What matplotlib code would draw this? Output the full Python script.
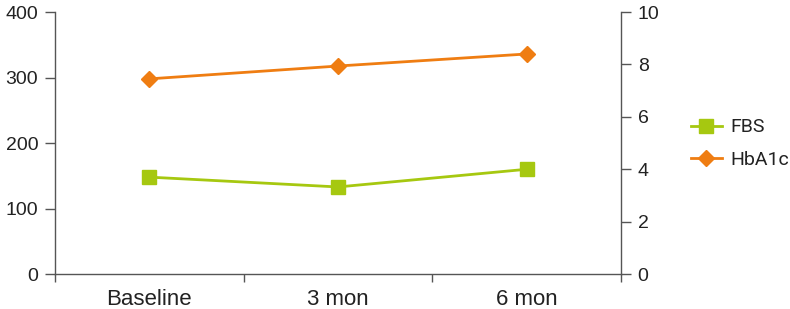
import matplotlib.pyplot as plt
from matplotlib.ticker import FixedLocator

plt.rcParams['font.family'] = ['Liberation Sans', 'DejaVu Sans']

# dati
periodi = ["Baseline", "3 mon", "6 mon"]
fbs = [148, 133, 160]
hba1c = [7.45, 7.94, 8.4]

verde = "#a6c810"
arancio = "#ef7d12"
grigio = "#555555"
testo = "#222222"

fig = plt.figure(figsize=(7.9, 3.09), dpi=100)
ax = fig.add_axes([0.0696, 0.113, 0.7165, 0.848])
ax2 = ax.twinx()

x = range(len(periodi))
l1, = ax.plot(x, fbs, color=verde, lw=2, marker='s', ms=9.5, label="FBS")
l2, = ax2.plot(x, hba1c, color=arancio, lw=2, marker='D', ms=8, label="HbA1c")

ax.set_ylim(0, 400)
ax.set_yticks([0, 100, 200, 300, 400])
ax2.set_ylim(0, 10)
ax2.set_yticks([0, 2, 4, 6, 8, 10])
ax.set_xlim(-0.5, 2.5)

# tacche sui bordi delle categorie, etichette al centro
ax.xaxis.set_major_locator(FixedLocator([-0.5, 0.5, 1.5, 2.5]))
ax.set_xticklabels([])
ax.set_xticks(list(x), minor=True)
ax.set_xticklabels(periodi, minor=True)

for a in (ax, ax2):
    for s in a.spines.values():
        s.set_visible(False)
    a.tick_params(labelsize=14, labelcolor=testo, color=grigio, length=7, width=1, pad=5)
ax.tick_params(axis='x', which='major', length=6, width=1, color=grigio)
ax.tick_params(axis='x', which='minor', length=0, pad=11, labelsize=16, labelcolor=testo)

ax.spines['left'].set_visible(True)
ax.spines['bottom'].set_visible(True)
ax2.spines['right'].set_visible(True)
for s in (ax.spines['left'], ax.spines['bottom'], ax2.spines['right']):
    s.set_color(grigio)
    s.set_linewidth(1)

ax.set_zorder(ax2.get_zorder() + 1)
ax.patch.set_visible(False)

fig.legend([l1, l2], ["FBS", "HbA1c"], loc='center left', bbox_to_anchor=(0.852, 0.535),
           frameon=False, prop={'family': 'Roboto', 'size': 14}, labelcolor=testo,
           handlelength=1.6, handletextpad=0.45, labelspacing=0.75)

fig.savefig("out.png", dpi=100)
